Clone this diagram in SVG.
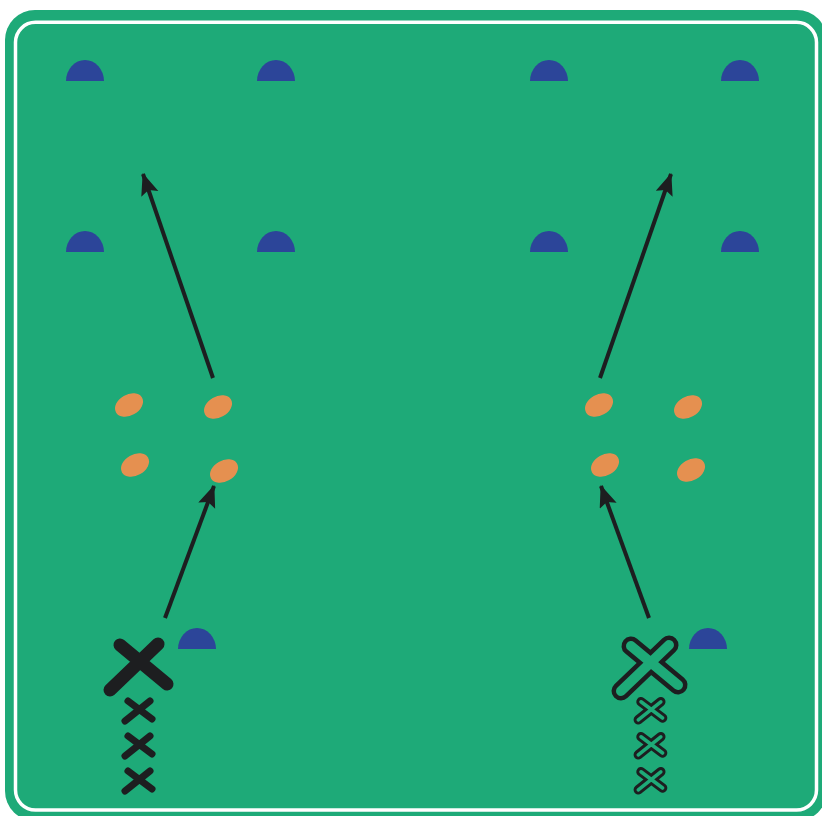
<svg xmlns="http://www.w3.org/2000/svg" width="822" height="816" viewBox="0 0 822 816">
<style>
.cone{fill:#2c4599}
.ball{fill:#e59050}
.arrow{stroke:#1d1e20;stroke-width:4;fill:none;marker-end:url(#ah)}
.xf{stroke:#1d1e20;stroke-linecap:round;fill:none}
.xo{stroke:#1d1e20;stroke-linecap:round;fill:none}
.xi{stroke:#1eaa78;stroke-linecap:round;fill:none}
</style>
<defs>
<marker id="ah" markerUnits="userSpaceOnUse" markerWidth="26" markerHeight="20" viewBox="0 0 26 20" refX="21" refY="9" orient="auto">
<path d="M0,0 L22,9 L0,18 L4,9 Z" fill="#1d1e20"/>
</marker>
<path id="bigx" d="M-29,25 L19,-21 M-19,-20 L28,19"/>
<path id="smx" d="M-13,12 L12,-8 M-10,-8 L14,10"/>
</defs>
<rect width="822" height="816" fill="#ffffff"/>
<g id="field">
<rect x="5" y="10" width="822" height="811" rx="30" fill="#1eaa78"/>
<rect x="15.5" y="22.3" width="801" height="787.7" rx="20" fill="none" stroke="#ffffff" stroke-width="3.5"/>
</g>
<g id="cones">
<path class="cone" d="M66,81 A19,21 0 0 1 104,81 Z"/>
<path class="cone" d="M257,81 A19,21 0 0 1 295,81 Z"/>
<path class="cone" d="M530,81 A19,21 0 0 1 568,81 Z"/>
<path class="cone" d="M721,81 A19,21 0 0 1 759,81 Z"/>
<path class="cone" d="M66,252 A19,21 0 0 1 104,252 Z"/>
<path class="cone" d="M257,252 A19,21 0 0 1 295,252 Z"/>
<path class="cone" d="M530,252 A19,21 0 0 1 568,252 Z"/>
<path class="cone" d="M721,252 A19,21 0 0 1 759,252 Z"/>
<path class="cone" d="M178,649 A19,21 0 0 1 216,649 Z"/>
<path class="cone" d="M689,649 A19,21 0 0 1 727,649 Z"/>
</g>
<g id="balls">
<ellipse class="ball" cx="129" cy="405" rx="15" ry="10.5" transform="rotate(-30 129 405)"/>
<ellipse class="ball" cx="218" cy="407" rx="15" ry="10.5" transform="rotate(-30 218 407)"/>
<ellipse class="ball" cx="135" cy="465" rx="15" ry="10.5" transform="rotate(-30 135 465)"/>
<ellipse class="ball" cx="224" cy="471" rx="15" ry="10.5" transform="rotate(-30 224 471)"/>
<ellipse class="ball" cx="599" cy="405" rx="15" ry="10.5" transform="rotate(-30 599 405)"/>
<ellipse class="ball" cx="688" cy="407" rx="15" ry="10.5" transform="rotate(-30 688 407)"/>
<ellipse class="ball" cx="605" cy="465" rx="15" ry="10.5" transform="rotate(-30 605 465)"/>
<ellipse class="ball" cx="691" cy="470" rx="15" ry="10.5" transform="rotate(-30 691 470)"/>
</g>
<g id="connectors">
<line class="arrow" x1="165" y1="618" x2="214" y2="486"/>
<line class="arrow" x1="213" y1="378" x2="143" y2="174"/>
<line class="arrow" x1="600" y1="378" x2="671" y2="174"/>
<line class="arrow" x1="649" y1="618" x2="601" y2="486"/>
</g>
<g id="players-left">
<use href="#bigx" class="xf" stroke-width="13" transform="translate(139,665)"/>
<use href="#smx" class="xf" stroke-width="7" transform="translate(138,709)"/>
<use href="#smx" class="xf" stroke-width="7" transform="translate(138,744)"/>
<use href="#smx" class="xf" stroke-width="7" transform="translate(138,779)"/>
</g>
<g id="players-right">
<use href="#bigx" class="xo" stroke-width="19" transform="translate(650,666)"/>
<use href="#bigx" class="xi" stroke-width="10" transform="translate(650,666)"/>
<use href="#smx" class="xo" stroke-width="10.5" transform="translate(650,709) scale(0.9)"/>
<use href="#smx" class="xi" stroke-width="4" transform="translate(650,709) scale(0.9)"/>
<use href="#smx" class="xo" stroke-width="10.5" transform="translate(650,744) scale(0.9)"/>
<use href="#smx" class="xi" stroke-width="4" transform="translate(650,744) scale(0.9)"/>
<use href="#smx" class="xo" stroke-width="10.5" transform="translate(650,779) scale(0.9)"/>
<use href="#smx" class="xi" stroke-width="4" transform="translate(650,779) scale(0.9)"/>
</g>
</svg>
